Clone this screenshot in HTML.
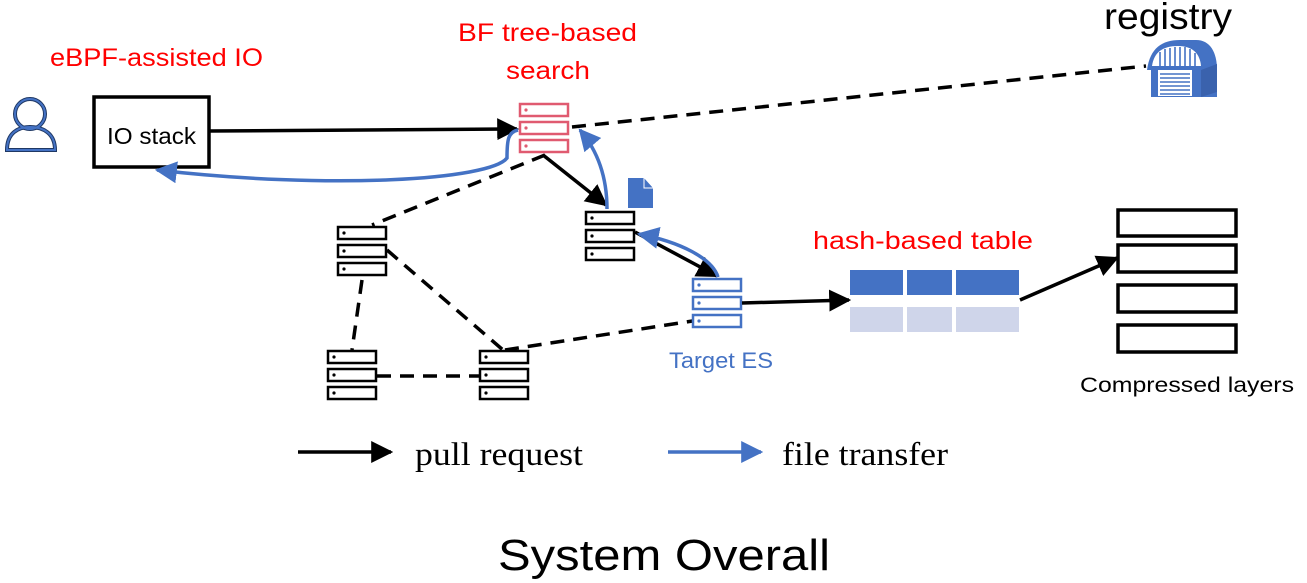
<!DOCTYPE html>
<html><head><meta charset="utf-8"><style>
html,body{margin:0;padding:0;background:#fff;width:1307px;height:583px;overflow:hidden}
svg{display:block}
.s{font-family:"Liberation Sans",sans-serif}
</style></head><body>
<svg width="1307" height="583" viewBox="0 0 1307 583" xmlns="http://www.w3.org/2000/svg">
<defs>
<marker id="abig" viewBox="0 0 10 10" refX="9" refY="5" markerWidth="22" markerHeight="22" orient="auto" markerUnits="userSpaceOnUse"><path d="M0,0 L10,5 L0,10 z" fill="#000"/></marker>
<marker id="bbig" viewBox="0 0 10 10" refX="9" refY="5" markerWidth="22" markerHeight="22" orient="auto" markerUnits="userSpaceOnUse"><path d="M0,0 L10,5 L0,10 z" fill="#4472c4"/></marker>
<g id="srv">
<rect x="1" y="1" width="48" height="12" fill="#fff" stroke="currentColor" stroke-width="2.5"/>
<rect x="1" y="19" width="48" height="12" fill="#fff" stroke="currentColor" stroke-width="2.5"/>
<rect x="1" y="37" width="48" height="12" fill="#fff" stroke="currentColor" stroke-width="2.5"/>
<circle cx="7" cy="7" r="1.6" fill="currentColor"/><circle cx="7" cy="25" r="1.6" fill="currentColor"/><circle cx="7" cy="43" r="1.6" fill="currentColor"/>
</g>
</defs>

<g stroke="#000" stroke-width="3.5" stroke-dasharray="14,9" fill="none">
<line x1="572" y1="127" x2="1146" y2="66"/>
<line x1="545" y1="155" x2="372" y2="225"/>
<line x1="387" y1="250" x2="503" y2="350"/>
<line x1="362" y1="280" x2="352" y2="350"/>
<line x1="377" y1="376" x2="479" y2="376"/>
<line x1="505" y1="350" x2="712" y2="318"/>
</g>

<text x="50" y="66" class="s" font-size="25" fill="#ff0000" textLength="213" lengthAdjust="spacingAndGlyphs">eBPF-assisted IO</text>
<text x="458" y="41" class="s" font-size="25" fill="#ff0000" textLength="179" lengthAdjust="spacingAndGlyphs">BF tree-based</text>
<text x="506" y="79" class="s" font-size="25" fill="#ff0000" textLength="84" lengthAdjust="spacingAndGlyphs">search</text>
<text x="813" y="249" class="s" font-size="25" fill="#ff0000" textLength="220" lengthAdjust="spacingAndGlyphs">hash-based table</text>
<text x="1104" y="29" class="s" font-size="37" fill="#000" textLength="128" lengthAdjust="spacingAndGlyphs">registry</text>
<text x="669" y="368" class="s" font-size="22" fill="#4472c4" textLength="104" lengthAdjust="spacingAndGlyphs">Target ES</text>
<text x="1080" y="392" class="s" font-size="21" fill="#000" textLength="214" lengthAdjust="spacingAndGlyphs">Compressed layers</text>

<g fill="none" stroke="#1f3864" stroke-width="4">
<circle cx="30" cy="114" r="15"/>
<path d="M7,150 C7,133 18,127 30,127 C44,127 55,134 55,150 Z"/>
</g>
<g fill="none" stroke="#4472c4" stroke-width="2">
<circle cx="30" cy="114" r="15"/>
<path d="M7,150 C7,133 18,127 30,127 C44,127 55,134 55,150 Z"/>
</g>

<rect x="94" y="97" width="115" height="70" fill="#fff" stroke="#000" stroke-width="3.5"/>
<text x="107" y="144" class="s" font-size="23" textLength="89" lengthAdjust="spacingAndGlyphs">IO stack</text>

<use href="#srv" x="519" y="103" style="color:#e05a70" />
<use href="#srv" x="585" y="211" style="color:#000"/>
<use href="#srv" x="337" y="226" style="color:#000"/>
<use href="#srv" x="327" y="350" style="color:#000"/>
<use href="#srv" x="479" y="350" style="color:#000"/>
<use href="#srv" x="692" y="278" style="color:#4472c4"/>

<path d="M628,178 L644,178 L653,188 L653,208 L628,208 Z" fill="#4472c4"/>
<path d="M644,178 L644,188 L653,188" fill="none" stroke="#fff" stroke-width="1"/>

<g fill="#4472c4">
<path d="M1147,70 C1150,48 1162,40 1180,40 L1196,40 C1210,40 1217,52 1217,70 Z"/>
<rect x="1151" y="68" width="66" height="29"/>
</g>
<path d="M1152,66 C1154,52 1163,46 1178,46 C1193,46 1200,54 1201,66 Z" fill="#fff"/>
<g stroke="#4472c4" stroke-width="1.6">
<line x1="1160" y1="52" x2="1160" y2="66"/><line x1="1165" y1="49" x2="1165" y2="66"/><line x1="1170" y1="48" x2="1170" y2="66"/><line x1="1175" y1="47" x2="1175" y2="66"/><line x1="1180" y1="47" x2="1180" y2="66"/><line x1="1185" y1="47" x2="1185" y2="66"/><line x1="1190" y1="49" x2="1190" y2="66"/><line x1="1195" y1="53" x2="1195" y2="66"/>
</g>
<rect x="1158" y="70" width="34" height="26" fill="#fff"/>
<g stroke="#4472c4" stroke-width="1.5">
<line x1="1160" y1="74" x2="1190" y2="74"/><line x1="1160" y1="78" x2="1190" y2="78"/><line x1="1160" y1="82" x2="1190" y2="82"/><line x1="1160" y1="86" x2="1190" y2="86"/><line x1="1160" y1="90" x2="1190" y2="90"/><line x1="1160" y1="94" x2="1190" y2="94"/>
</g>
<path d="M1201,70 L1217,64 L1217,92 L1201,97 Z" fill="#3a62ad"/>

<g fill="#4472c4"><rect x="850" y="270" width="53" height="25"/><rect x="907" y="270" width="45" height="25"/><rect x="956" y="270" width="63" height="25"/></g>
<g fill="#cfd5ea"><rect x="850" y="307" width="53" height="25"/><rect x="907" y="307" width="45" height="25"/><rect x="956" y="307" width="63" height="25"/></g>

<g fill="#fff" stroke="#000" stroke-width="3.5">
<rect x="1118" y="210" width="118" height="26"/>
<rect x="1118" y="245" width="118" height="27"/>
<rect x="1118" y="285" width="118" height="27"/>
<rect x="1118" y="325" width="118" height="27"/>
</g>

<g stroke="#000" stroke-width="3.5" fill="none">
<line x1="209" y1="131" x2="517" y2="129" marker-end="url(#abig)"/>
<line x1="543" y1="155" x2="606" y2="205" marker-end="url(#abig)"/>
<line x1="635" y1="232" x2="717" y2="276" marker-end="url(#abig)"/>
<line x1="742" y1="303" x2="849" y2="300" marker-end="url(#abig)"/>
<line x1="1020" y1="300" x2="1117" y2="258" marker-end="url(#abig)"/>
</g>
<g stroke="#4472c4" stroke-width="3.5" fill="none">
<path d="M518,130 C508,132 507,140 507,158 C490,180 330,190 157,170" marker-end="url(#bbig)"/>
<path d="M607,209 C607,175 597,150 580,130" marker-end="url(#bbig)"/>
<path d="M718,277 C712,258 680,242 639,234" marker-end="url(#bbig)"/>
</g>

<line x1="298" y1="452" x2="391" y2="452" stroke="#000" stroke-width="3.5" marker-end="url(#abig)"/>
<text x="415" y="465" font-family="Liberation Serif,serif" font-size="33" textLength="168" lengthAdjust="spacingAndGlyphs">pull request</text>
<line x1="668" y1="452" x2="761" y2="452" stroke="#4472c4" stroke-width="3.5" marker-end="url(#bbig)"/>
<text x="782" y="465" font-family="Liberation Serif,serif" font-size="33" textLength="166" lengthAdjust="spacingAndGlyphs">file transfer</text>

<text x="498" y="570" class="s" font-size="44" textLength="332" lengthAdjust="spacingAndGlyphs">System Overall</text>
</svg>
</body></html>
